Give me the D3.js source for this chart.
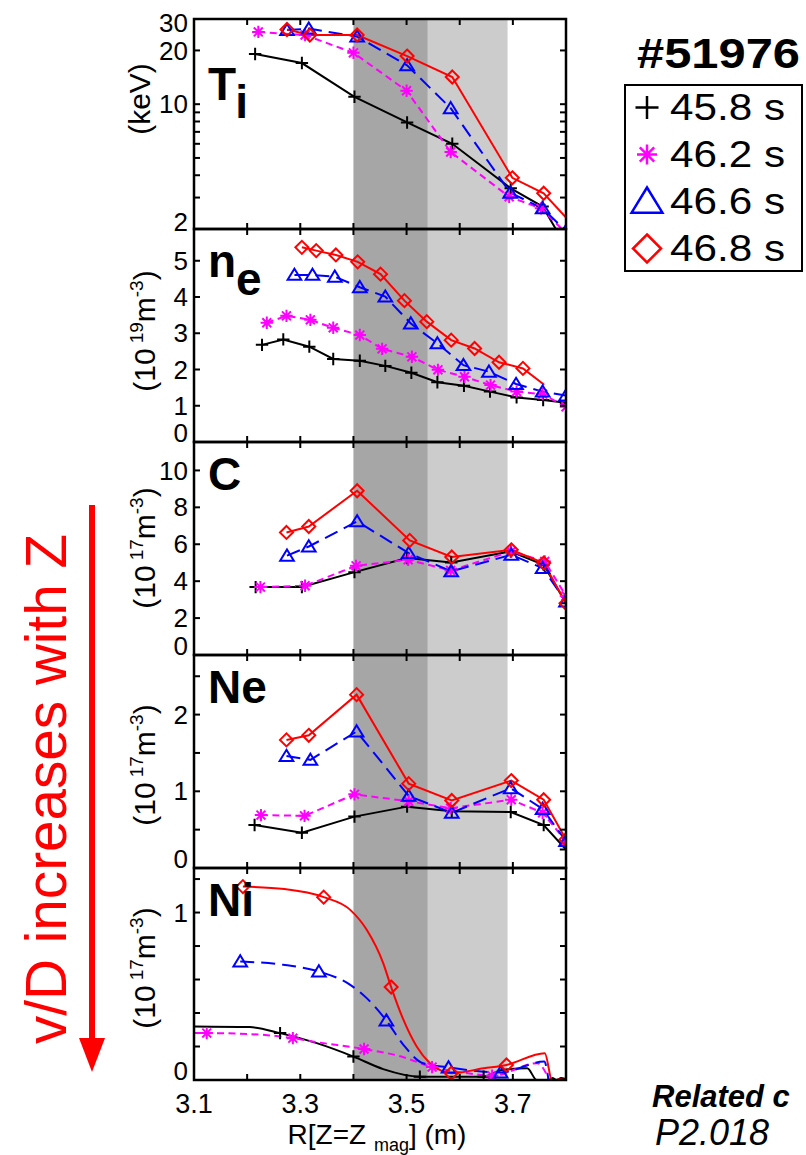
<!DOCTYPE html>
<html><head><meta charset="utf-8">
<script src="https://cdn.jsdelivr.net/npm/d3@7"></script>
<style>
body{margin:0;background:#fff;}
svg{display:block;}
text{font-family:"Liberation Sans",Arial,Helvetica,sans-serif;}
</style>
</head><body>
<svg id="c" width="806" height="1155"></svg>
<script>
// ---------------- DATA ----------------
const shotLabel = "#51976";
const times = ["45.8 s", "46.2 s", "46.6 s", "46.8 s"];
const rTicks = [3.1, 3.2, 3.3, 3.4, 3.5, 3.6, 3.7, 3.8];
const rTickLabels = ["3.1", "3.3", "3.5", "3.7"];
const bandDark = [3.40, 3.54];
const bandLight = [3.54, 3.69];

// Ti (keV)
const tiTicks = [2, 3, 4, 5, 6, 7, 8, 9, 10, 20, 30];
const tiTickLabels = ["2", "10", "20", "30"];
const tiR_458 = [3.215, 3.303, 3.402, 3.501, 3.586, 3.696, 3.756, 3.80];
const ti_458  = [19.1, 17.0, 11.0, 7.9, 6.0, 3.38, 2.67, 1.6];
const tiR_462 = [3.221, 3.309, 3.400, 3.500, 3.583, 3.693, 3.753, 3.80];
const ti_462  = [25.4, 24.4, 19.4, 11.9, 5.4, 3.03, 2.61, 1.9];
const tiR_466 = [3.275, 3.316, 3.407, 3.501, 3.583, 3.695, 3.756, 3.80];
const ti_466  = [26.0, 26.5, 23.9, 16.5, 9.5, 3.19, 2.61, 1.95];
const tiR_468 = [3.275, 3.318, 3.407, 3.501, 3.586, 3.699, 3.758, 3.82];
const ti_468  = [26.2, 24.4, 24.4, 18.6, 14.2, 3.87, 3.17, 2.0];

// ne (1e19 m^-3)
const neTicks = [0, 1, 2, 3, 4, 5];
const neTickLabels = ["0", "1", "2", "3", "4", "5"];
const neR_458 = [3.228, 3.268, 3.317, 3.362, 3.412, 3.460, 3.509, 3.558, 3.608, 3.657, 3.707, 3.757, 3.80];
const ne_458  = [2.68, 2.83, 2.63, 2.29, 2.24, 2.10, 1.91, 1.65, 1.55, 1.39, 1.23, 1.16, 1.08];
const neR_462 = [3.237, 3.274, 3.319, 3.362, 3.412, 3.454, 3.510, 3.559, 3.609, 3.658, 3.707, 3.756, 3.80];
const ne_462  = [3.29, 3.48, 3.37, 3.15, 2.95, 2.57, 2.35, 1.99, 1.80, 1.57, 1.39, 1.32, 0.97];
const neR_466 = [3.289, 3.323, 3.365, 3.412, 3.460, 3.508, 3.558, 3.607, 3.655, 3.706, 3.756, 3.80];
const ne_466  = [4.61, 4.61, 4.56, 4.27, 4.01, 3.27, 2.72, 2.12, 1.94, 1.60, 1.39, 1.28];
const neR_468 = [3.303, 3.330, 3.367, 3.408, 3.451, 3.496, 3.538, 3.584, 3.628, 3.674, 3.719, 3.759];
const ne_468  = [5.37, 5.28, 5.16, 4.97, 4.63, 3.90, 3.32, 2.81, 2.58, 2.20, 2.03, 1.58];

// C (1e17 m^-3)
const cTicks = [0, 2, 4, 6, 8, 10];
const cTickLabels = ["0", "2", "4", "6", "8", "10"];
const cR_458 = [3.216, 3.303, 3.402, 3.501, 3.584, 3.696, 3.758, 3.80];
const c_458  = [3.68, 3.68, 4.49, 5.25, 5.01, 5.61, 4.89, 2.8];
const cR_462 = [3.225, 3.309, 3.405, 3.503, 3.583, 3.697, 3.760, 3.80];
const c_462  = [3.68, 3.75, 4.83, 5.16, 4.58, 5.61, 5.07, 3.2];
const cR_466 = [3.275, 3.316, 3.407, 3.504, 3.584, 3.697, 3.756, 3.80];
const c_466  = [5.38, 5.88, 7.24, 5.52, 4.53, 5.43, 4.71, 2.9];
const cR_468 = [3.274, 3.316, 3.407, 3.506, 3.585, 3.697, 3.758, 3.80];
const c_468  = [6.64, 6.96, 8.90, 6.21, 5.31, 5.70, 4.98, 2.8];

// Ne (1e17 m^-3)
const nnTicks = [0, 0.5, 1, 1.5, 2, 2.5];
const nnTickLabels = ["0", "1", "2"];
const nnR_458 = [3.214, 3.303, 3.402, 3.501, 3.585, 3.696, 3.758, 3.80];
const nn_458  = [0.56, 0.46, 0.67, 0.80, 0.74, 0.73, 0.56, 0.24];
const nnR_462 = [3.226, 3.308, 3.402, 3.504, 3.583, 3.697, 3.756, 3.80];
const nn_462  = [0.69, 0.68, 0.96, 0.87, 0.78, 0.89, 0.72, 0.35];
const nnR_466 = [3.274, 3.319, 3.406, 3.504, 3.585, 3.696, 3.756, 3.80];
const nn_466  = [1.46, 1.41, 1.78, 0.94, 0.72, 1.04, 0.77, 0.35];
const nnR_468 = [3.274, 3.316, 3.406, 3.504, 3.585, 3.697, 3.758, 3.80];
const nn_468  = [1.67, 1.73, 2.26, 1.10, 0.88, 1.14, 0.89, 0.37];

// Ni (1e17 m^-3): smooth profiles + marker samples
const niTicks = [0, 0.2, 0.4, 0.6, 0.8, 1.0, 1.2];
const niTickLabels = ["0", "1"];
const niCurveR_458 = [3.10, 3.205, 3.262, 3.331, 3.400, 3.456, 3.525, 3.645, 3.680, 3.727, 3.745, 3.770, 3.775, 3.783, 3.790, 3.800];
const niCurve_458  = [0.32, 0.316, 0.28, 0.22, 0.14, 0.065, 0.02, 0.02, 0.06, 0.07, 0.0, 0.0, 0.012, -0.003, 0.012, 0.005];
const niMarkR_458 = [3.262, 3.400, 3.525, 3.645];
const niMark_458  = [0.28, 0.14, 0.02, 0.02];
const niCurveR_462 = [3.10, 3.124, 3.200, 3.286, 3.323, 3.420, 3.490, 3.548, 3.616, 3.661, 3.746, 3.770];
const niCurve_462  = [0.28, 0.28, 0.275, 0.25, 0.23, 0.185, 0.14, 0.077, 0.04, 0.025, 0.10, -0.01];
const niMarkR_462 = [3.124, 3.286, 3.420, 3.548, 3.661];
const niMark_462  = [0.28, 0.25, 0.185, 0.077, 0.025];
const niCurveR_466 = [3.187, 3.268, 3.335, 3.394, 3.425, 3.462, 3.494, 3.531, 3.579, 3.677, 3.759, 3.768];
const niCurve_466  = [0.708, 0.688, 0.648, 0.568, 0.489, 0.355, 0.21, 0.10, 0.075, 0.045, 0.11, -0.02];
const niMarkR_466 = [3.187, 3.335, 3.462, 3.579, 3.677];
const niMark_466  = [0.708, 0.648, 0.355, 0.075, 0.045];
const niCurveR_468 = [3.192, 3.270, 3.344, 3.394, 3.425, 3.456, 3.471, 3.494, 3.519, 3.544, 3.569, 3.584, 3.645, 3.688, 3.760, 3.775, 3.785, 3.800];
const niCurve_468  = [1.155, 1.14, 1.092, 1.016, 0.897, 0.698, 0.555, 0.36, 0.20, 0.10, 0.05, 0.04, 0.07, 0.09, 0.16, -0.02, 0.005, 0.0];
const niMarkR_468 = [3.192, 3.344, 3.471, 3.584, 3.688];
const niMark_468  = [1.155, 1.092, 0.555, 0.04, 0.09];

// ---------------- STYLE / LAYOUT ----------------
const seriesStyle = [
  {color: "#000000", sym: "plus", dash: null},
  {color: "#ff00ff", sym: "star", dash: "7,4.5"},
  {color: "#0000ff", sym: "triangle", dash: "14,7"},
  {color: "#ff0000", sym: "diamond", dash: null}
];
const X0 = 194, X1 = 566;
const zip = (a, b) => a.map((v, i) => [v, b[i]]);
const neLines = [zip(neR_458, ne_458), zip(neR_462, ne_462), zip(neR_466, ne_466), zip(neR_468, ne_468)];

const panels = [
  {top: 19, bottom: 229, log: true, domain: [2, 30], ticks: tiTicks, labels: tiTickLabels,
   name: ["T", "i"], unit: ["(keV)"], unitY: 99,
   lines: [zip(tiR_458, ti_458), zip(tiR_462, ti_462), zip(tiR_466, ti_466), zip(tiR_468, ti_468)]},
  {top: 229, bottom: 442, domain: [0, 5.876], ticks: neTicks, labels: neTickLabels,
   name: ["n", "e"], unit: ["(10", "19", "m", "-3", ")"], unitY: 331,
   lines: neLines, marks: [neLines[0], neLines[1], neLines[2], neLines[3].slice(0, -1)]},
  {top: 442, bottom: 655, domain: [0, 11.54], ticks: cTicks, labels: cTickLabels,
   name: ["C", ""], unit: ["(10", "17", "m", "-3", ")"], unitY: 548,
   lines: [zip(cR_458, c_458), zip(cR_462, c_462), zip(cR_466, c_466), zip(cR_468, c_468)]},
  {top: 655, bottom: 868, domain: [0, 2.777], ticks: nnTicks, labels: nnTickLabels,
   name: ["Ne", ""], unit: ["(10", "17", "m", "-3", ")"], unitY: 765,
   lines: [zip(nnR_458, nn_458), zip(nnR_462, nn_462), zip(nnR_466, nn_466), zip(nnR_468, nn_468)]},
  {top: 868, bottom: 1080, domain: [0, 1.266], ticks: niTicks, labels: niTickLabels, smooth: true,
   name: ["Ni", ""], unit: ["(10", "17", "m", "-3", ")"], unitY: 968,
   lines: [zip(niCurveR_458, niCurve_458), zip(niCurveR_462, niCurve_462), zip(niCurveR_466, niCurve_466), zip(niCurveR_468, niCurve_468)],
   marks: [zip(niMarkR_458, niMark_458), zip(niMarkR_462, niMark_462), zip(niMarkR_466, niMark_466), zip(niMarkR_468, niMark_468)]}
];

const svg = d3.select("#c");
const x = d3.scaleLinear().domain([3.1, 3.8]).range([X0, X1]);

function markerPath(type, s) {
  if (type === "plus") return `M${-s},0H${s}M0,${-s}V${s}`;
  if (type === "star") { const d = s * 0.72; return `M${-s},0H${s}M0,${-s}V${s}M${-d},${-d}L${d},${d}M${-d},${d}L${d},${-d}`; }
  if (type === "triangle") return `M0,${-s * 1.0}L${s * 1.1},${s * 0.8}L${-s * 1.1},${s * 0.8}Z`;
  return `M0,${-s}L${s},0L0,${s}L${-s},0Z`;
}

// grey bands across all panels
const yTop = panels[0].top, yBot = panels[panels.length - 1].bottom;
svg.append("rect").attr("x", x(bandDark[0])).attr("y", yTop).attr("width", x(bandDark[1]) - x(bandDark[0])).attr("height", yBot - yTop).attr("fill", "#a6a6a6");
svg.append("rect").attr("x", x(bandLight[0])).attr("y", yTop).attr("width", x(bandLight[1]) - x(bandLight[0])).attr("height", yBot - yTop).attr("fill", "#cccccc");

panels.forEach((p, pi) => {
  const y = (p.log ? d3.scaleLog() : d3.scaleLinear()).domain(p.domain).range([p.bottom, p.top]);
  const clipId = "clip" + pi;
  svg.append("clipPath").attr("id", clipId).append("rect")
    .attr("x", X0).attr("y", p.top).attr("width", X1 - X0).attr("height", p.bottom - p.top);
  const g = svg.append("g").attr("clip-path", `url(#${clipId})`);
  const line = d3.line().x(d => x(d[0])).y(d => y(d[1]));
  if (p.smooth) line.curve(d3.curveMonotoneX);
  p.lines.forEach((pts, si) => {
    const st = seriesStyle[si];
    g.append("path").attr("d", line(pts)).attr("fill", "none").attr("stroke", st.color)
      .attr("stroke-width", 2).attr("stroke-dasharray", st.dash);
  });
  const markSets = p.marks || p.lines;
  markSets.forEach((pts, si) => {
    const st = seriesStyle[si];
    pts.forEach(d => {
      g.append("path").attr("transform", `translate(${x(d[0])},${y(d[1])})`)
        .attr("d", markerPath(st.sym, st.sym === "diamond" ? 6.5 : 6.2))
        .attr("fill", "none").attr("stroke", st.color).attr("stroke-width", 2);
    });
  });

  // ticks (inward)
  const tl = 6;
  const tg = svg.append("g").attr("stroke", "#000").attr("stroke-width", 2);
  rTicks.forEach(r => {
    tg.append("line").attr("x1", x(r)).attr("x2", x(r)).attr("y1", p.top).attr("y2", p.top + tl);
    tg.append("line").attr("x1", x(r)).attr("x2", x(r)).attr("y1", p.bottom).attr("y2", p.bottom - tl);
  });
  p.ticks.forEach(t => {
    tg.append("line").attr("x1", X0).attr("x2", X0 + tl).attr("y1", y(t)).attr("y2", y(t));
    tg.append("line").attr("x1", X1).attr("x2", X1 - tl).attr("y1", y(t)).attr("y2", y(t));
  });
  // frame
  svg.append("rect").attr("x", X0).attr("y", p.top).attr("width", X1 - X0).attr("height", p.bottom - p.top)
    .attr("fill", "none").attr("stroke", "#000").attr("stroke-width", 2.5);

  // tick labels
  p.labels.forEach(lab => {
    const v = +lab;
    let yy = y(v);
    if (v === p.domain[0]) yy -= (p.log ? 7 : 9);
    if (p.log && v === 30) yy += 4;
    svg.append("text").attr("x", X0 - 6).attr("y", yy).attr("dy", "0.35em")
      .attr("text-anchor", "end").attr("font-size", 26).text(lab);
  });

  // panel name
  const nm = svg.append("text").attr("x", 208).attr("y", p.top + (pi === 0 ? 81 : 48))
    .attr("font-size", 46).attr("font-weight", "bold");
  nm.append("tspan").text(p.name[0]);
  if (p.name[1]) nm.append("tspan").attr("dy", 18).text(p.name[1]);

  // unit label
  const single = p.unit.length === 1;
  const ut = svg.append("text").attr("transform", `translate(${single ? 150 : 155},${p.unitY}) rotate(-90)`)
    .attr("text-anchor", "middle").attr("font-size", 30);
  if (single) ut.text(p.unit[0]);
  else {
    ut.append("tspan").text(p.unit[0]);
    ut.append("tspan").attr("font-size", 19).attr("dx", 5).attr("dy", -12).text(p.unit[1]);
    ut.append("tspan").attr("dy", 12).text(p.unit[2]);
    ut.append("tspan").attr("font-size", 19).attr("dy", -12).text(p.unit[3]);
    ut.append("tspan").attr("dy", 12).text(p.unit[4]);
  }
});

// x tick labels
rTickLabels.forEach(l => {
  svg.append("text").attr("x", x(+l)).attr("y", 1113).attr("text-anchor", "middle").attr("font-size", 27).text(l);
});
// x title
const xt = svg.append("text").attr("x", 377).attr("y", 1144).attr("text-anchor", "middle").attr("font-size", 28);
xt.append("tspan").text("R[Z=Z ");
xt.append("tspan").attr("font-size", 18).attr("dy", 7).text("mag");
xt.append("tspan").attr("dy", -7).text("] (m)");

// shot number and legend
svg.append("text").attr("x", 637).attr("y", 68).attr("font-size", 42).attr("font-weight", "bold")
  .attr("textLength", 163).attr("lengthAdjust", "spacingAndGlyphs").text(shotLabel);
svg.append("rect").attr("x", 625).attr("y", 85).attr("width", 177).attr("height", 186)
  .attr("fill", "#fff").attr("stroke", "#000").attr("stroke-width", 2);
times.forEach((t, i) => {
  const cy = 106.5 + 47 * i;
  const st = seriesStyle[i];
  const sz = st.sym === "plus" ? 11.5 : st.sym === "star" ? 10 : 14;
  svg.append("path").attr("transform", `translate(647,${cy + 1})`)
    .attr("d", markerPath(st.sym, sz)).attr("fill", "none").attr("stroke", st.color).attr("stroke-width", 2.5);
  svg.append("text").attr("x", 670).attr("y", cy + 13.5).attr("font-size", 37)
    .attr("textLength", 115).attr("lengthAdjust", "spacingAndGlyphs").text(t);
});

// red arrow annotation
svg.append("text").attr("transform", "translate(66,789) rotate(-90)").attr("text-anchor", "middle")
  .attr("font-size", 58).attr("fill", "#ff0000").attr("textLength", 510).attr("lengthAdjust", "spacingAndGlyphs")
  .text("v/D increases with Z");
svg.append("line").attr("x1", 92).attr("x2", 92).attr("y1", 505).attr("y2", 1042).attr("stroke", "#ff0000").attr("stroke-width", 6);
svg.append("path").attr("d", "M79,1038L105,1038L92,1072Z").attr("fill", "#ff0000");

// related contribution footer (cropped in the reference)
svg.append("text").attr("x", 652).attr("y", 1107).attr("font-size", 31).attr("font-weight", "bold")
  .attr("font-style", "italic").text("Related c");
svg.append("text").attr("x", 655).attr("y", 1145).attr("font-size", 36).attr("font-style", "italic").text("P2.018");
</script>
</body></html>
